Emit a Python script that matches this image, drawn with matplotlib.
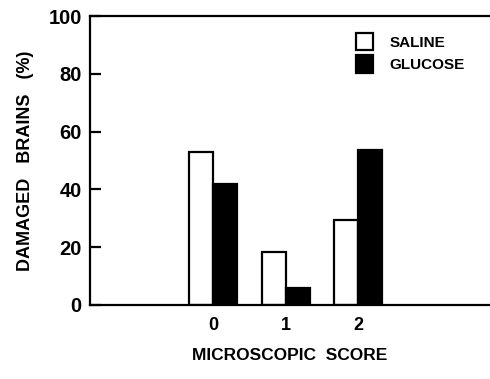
import numpy as np
import matplotlib.pyplot as plt

plt.rcParams['font.family'] = ['Liberation Sans', 'DejaVu Sans']
plt.rcParams['font.weight'] = 'bold'

scores = [0, 1, 2]
saline = [53, 18.5, 29.5]
glucose = [42, 6, 53.5]
yticks = [0, 20, 40, 60, 80, 100]

fig = plt.figure(figsize=(4.9, 3.79), dpi=100)
ax = fig.add_axes([90/490, 1-305/379, 400/490, 289/379])

x = np.array(scores)
w = 0.33
ax.bar(x - w/2, saline, w, color='white', edgecolor='black', linewidth=1.6, label='SALINE')
ax.bar(x + w/2, glucose, w, color='black', edgecolor='black', linewidth=1.6, label='GLUCOSE')

ax.set_xlim(-1.70, 3.82)
ax.set_ylim(0, 100)
ax.set_yticks(yticks)
ax.set_xticks(scores)
ax.tick_params(axis='y', direction='in', length=8, width=1.6, labelsize=14.5, pad=6)
ax.tick_params(axis='x', length=0, labelsize=13, pad=9)
for s in ['left', 'bottom', 'top']:
    ax.spines[s].set_linewidth(1.6)
ax.spines['right'].set_visible(False)

ax.set_xlabel('MICROSCOPIC  SCORE', fontsize=12.5, fontweight='bold', labelpad=10)
ax.set_ylabel('DAMAGED   BRAINS   (%)', fontsize=13, fontweight='bold', labelpad=10)

leg = ax.legend(loc='upper left', bbox_to_anchor=(0.63, 0.99), frameon=False,
                fontsize=11, handlelength=1.1, handleheight=1.4, handletextpad=1.1,
                labelspacing=0.3)

fig.savefig('out.png', dpi=100)
